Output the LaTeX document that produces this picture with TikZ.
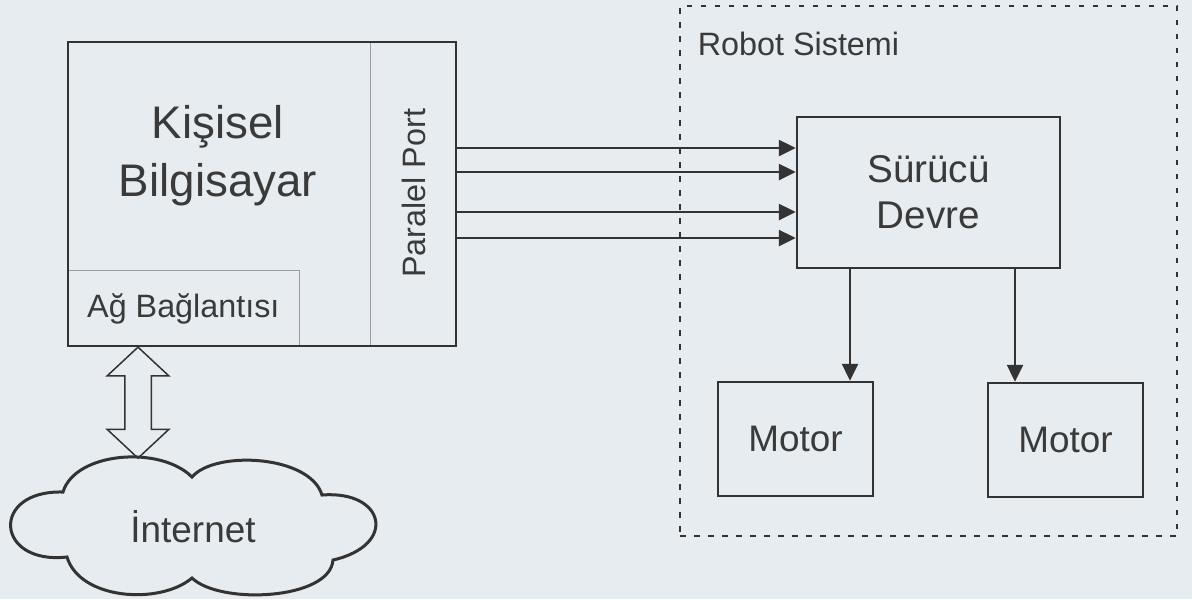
\documentclass[tikz,border=0pt]{standalone}
\usepackage{fontspec}
\setmainfont{Liberation Sans}
\usetikzlibrary{arrows.meta,positioning,shapes.arrows,calc,backgrounds}
\definecolor{paper}{HTML}{E6ECF0}
\definecolor{inkDark}{HTML}{333333}
\definecolor{inkThin}{HTML}{9C9C9C}
\definecolor{inkText}{HTML}{3A3A3A}

\begin{document}
\begin{tikzpicture}[
  x=0.1mm, y=-0.1mm,
  >={Triangle[length=1.7mm,width=1.6mm]},
  line width=0.25mm,
  every node/.style={inner sep=0pt, text=inkText},
  % --- Reusable styles -------------------------------------------------------
  block/.style={                 % plain square box
    rectangle, draw=inkDark, line width=0.25mm, align=center,
  },
  part/.style={                  % thin inner section of the PC box
    rectangle, draw=inkThin, line width=0.12mm,
  },
  group/.style={                 % dashed system frame
    rectangle, draw=inkDark, line width=0.28mm,
    dash pattern=on 0.55mm off 0.85mm,
  },
  cloudline/.style={draw=inkDark, line width=0.3mm},
  netlink/.style={               % hollow two-way arrow
    double arrow, draw=inkDark, line width=0.15mm,
    inner xsep=0pt, inner ysep=1.25mm,
    double arrow head extend=1.75mm, double arrow tip angle=94,
    minimum height=11.1mm,
  },
  flow/.style={->, draw=inkDark, line width=0.25mm},
  pcText/.style={font=\fontsize{13}{16.5}\selectfont},
  drvText/.style={font=\fontsize{11}{13}\selectfont},
  motorText/.style={font=\fontsize{10.5}{12}\selectfont},
  smallText/.style={font=\fontsize{9.2}{11}\selectfont},
]

\useasboundingbox (0,0) rectangle (1192,599);
\begin{scope}[on background layer]
  \fill[paper] (0,0) rectangle (1192,599);
\end{scope}

% --- Nodes -------------------------------------------------------------------
\node[block, minimum width=38.8mm, minimum height=30.4mm] (pc) at (262,194) {};
\node[pcText, align=center] (pclbl) at (218,156) {Kişisel\\Bilgisayar};
\begin{scope}[on background layer]
  \node[part, minimum width=8.6mm, minimum height=30.4mm, anchor=north east]
    (port) at (pc.north east) {};
  \node[part, smallText, minimum width=23.2mm, minimum height=7.6mm, anchor=south west]
    (net) at (pc.south west) {Ağ Bağlantısı};
\end{scope}
\node[smallText, rotate=90] (portlbl) at (port.center) {Paralel Port};

\node[group, minimum width=49.7mm, minimum height=53mm] (robot) at (928.5,271) {};
\node[smallText, anchor=west] (robotlbl)
  at ([xshift=1.8mm,yshift=-3.9mm]robot.north west) {Robot Sistemi};

\node[block, drvText, minimum width=26.3mm, minimum height=15.1mm] (drv)
  at (928.5,192.5) {Sürücü\\Devre};
\node[block, motorText, minimum width=15.5mm, minimum height=11.4mm] (m1)
  at (795.5,439) {Motor};
\node[block, motorText, minimum width=15.5mm, minimum height=11.4mm] (m2)
  at (1065.5,440) {Motor};

% --- Internet cloud ----------------------------------------------------------
\node[motorText] (inet) at (193,527) {İnternet};
\draw[cloudline] (63,492)
  .. controls (75,452) and (160,445) .. (192,477)
  .. controls (215,450) and (310,455) .. (322,495)
  .. controls (385,490) and (398,545) .. (333,560)
  .. controls (330,600) and (220,605) .. (192,578)
  .. controls (160,605) and (80,600) .. (67,557)
  .. controls (-5,565) and (-10,490) .. cycle;
\coordinate (cloudTop) at (138,458);

% --- Arrows ------------------------------------------------------------------
\foreach \y in {148,172,212,238}
  \draw[flow] (pc.east |- 0,\y) -- (drv.west |- 0,\y);

\draw[flow] ([xshift=-7.85mm]drv.south) -- ([xshift=-7.85mm]drv.south |- m1.north);
\draw[flow] ([xshift=8.65mm]drv.south) -- ([xshift=8.65mm]drv.south |- m2.north);

% --- Network link: PC <-> internet cloud -------------------------------------
\coordinate (linkA) at (cloudTop |- pc.south);
\node[netlink, rotate=90] (link) at ($(linkA)!0.5!(cloudTop)$) {};

\end{tikzpicture}
\end{document}
